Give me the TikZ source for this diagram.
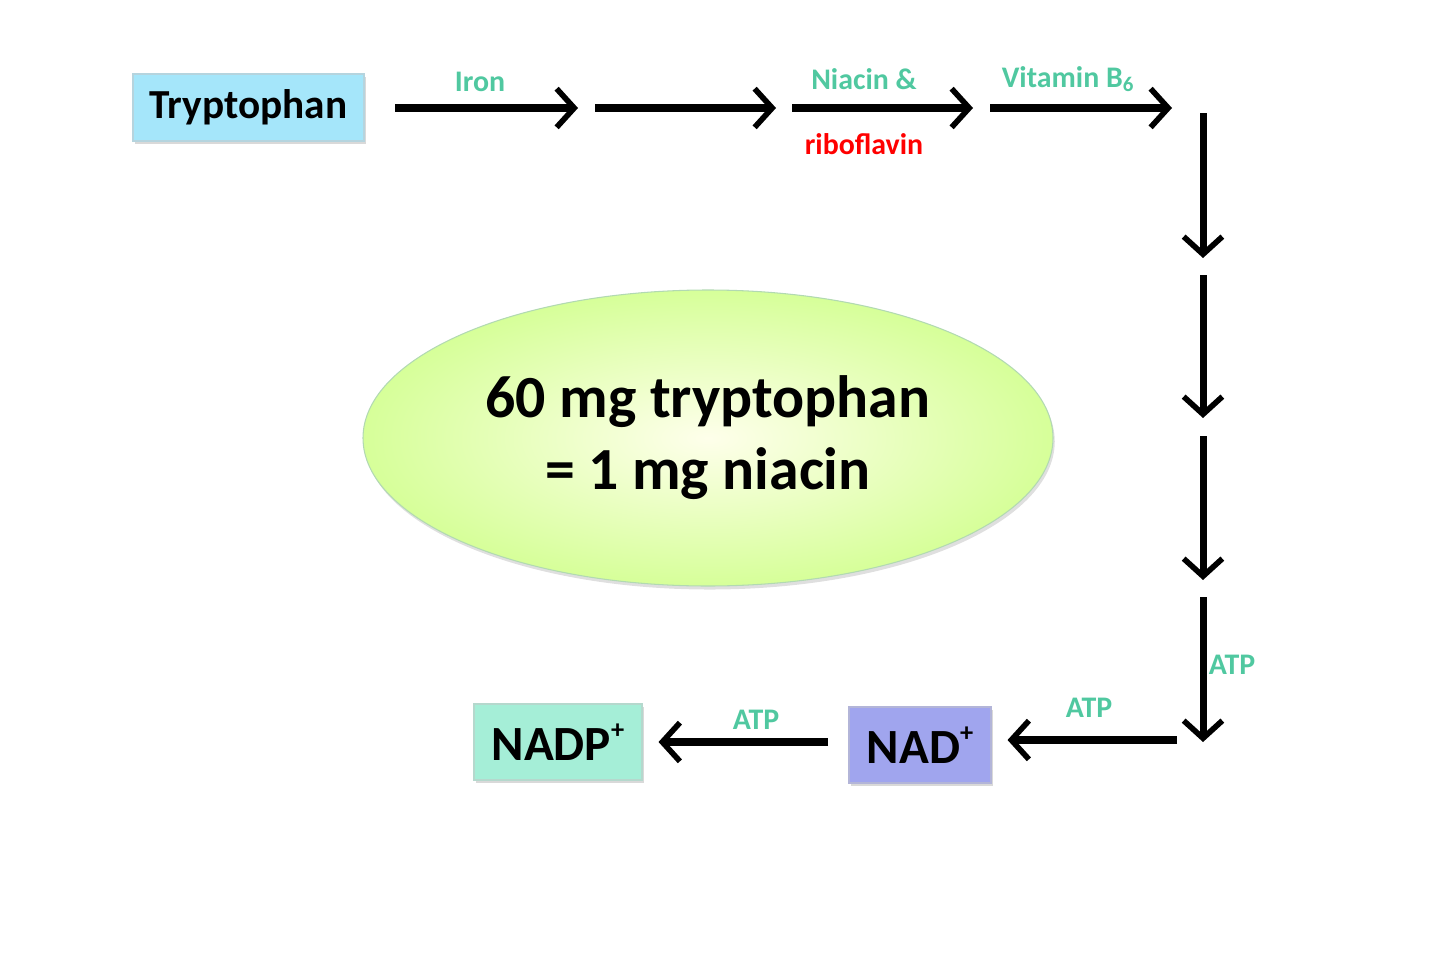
\documentclass[tikz,border=0pt]{standalone}
\usepackage{fontspec}
\setmainfont{Carlito}
\usetikzlibrary{arrows.meta,shadows,shapes.geometric}
\definecolor{teal2}{RGB}{80,200,160}
\definecolor{tryc}{RGB}{165,230,250}
\definecolor{nadpc}{RGB}{165,238,215}
\definecolor{nadc}{RGB}{160,165,238}
\tikzset{
 box/.style={draw=#1!80!black!60, line width=0.6pt, fill=#1, inner sep=0pt, font=\bfseries, drop shadow={opacity=0.3,shadow xshift=1pt,shadow yshift=-1.5pt}},
 arr/.style={line width=4pt, -{Straight Barb[length=10pt,width=22pt,line width=3.2pt]}},
 lab/.style={font=\bfseries\fontsize{17}{17}\selectfont, text=teal2, inner sep=0pt},
}
\newcommand{\supp}[1]{\raisebox{0.45em}{\fontsize{15}{15}\selectfont #1}}
\begin{document}
\begin{tikzpicture}[x=0.02cm,y=-0.02cm]
\useasboundingbox (0,0) rectangle (1440,970);
\node[box=tryc, minimum width=231*0.02cm, minimum height=67*0.02cm, font=\bfseries\fontsize{23.5}{23.5}\selectfont] (tryp) at (248.5,107.5) {Tryptophan};
\node[box=nadpc, minimum width=168*0.02cm, minimum height=76*0.02cm, font=\bfseries\fontsize{28}{28}\selectfont] (nadp) at (558,742) {NADP\supp{+}};
\node[box=nadc, minimum width=142*0.02cm, minimum height=76*0.02cm, font=\bfseries\fontsize{28}{28}\selectfont] (nad) at (920,745) {NAD\supp{+}};
\node[ellipse, draw=green!50!black!30, line width=0.6pt, inner color=green!5!yellow!8, outer color=green!40!yellow!40, minimum width=690*0.02cm, minimum height=296*0.02cm, drop shadow={opacity=0.25,shadow xshift=1pt,shadow yshift=-2pt}, align=center, font=\bfseries\fontsize{34}{41}\selectfont] (ell) at (708,438) {60 mg tryptophan\\= 1 mg niacin};
\coordinate (a0) at (395,108); \coordinate (a1) at (578,108);
\coordinate (b0) at (595,108); \coordinate (b1) at (776,108);
\coordinate (c0) at (792,108); \coordinate (c1) at (973,108);
\coordinate (d0) at (990,108); \coordinate (d1) at (1172,108);
\coordinate (v1) at (1203,113); \coordinate (v2) at (1203,258);
\coordinate (v3) at (1203,275); \coordinate (v4) at (1203,418);
\coordinate (v5) at (1203,436); \coordinate (v6) at (1203,580);
\coordinate (v7) at (1203,597); \coordinate (v8) at (1203,742);
\coordinate (h0) at (1177,740);
\coordinate (g0) at (828,742);
\draw[arr] (a0) -- (a1);
\draw[arr] (b0) -- (b1);
\draw[arr] (c0) -- (c1);
\draw[arr] (d0) -- (d1);
\draw[arr] (v1) -- (v2);
\draw[arr] (v3) -- (v4);
\draw[arr] (v5) -- (v6);
\draw[arr] (v7) -- (v8);
\draw[arr] (h0) -- ([xshift=16*0.02cm]h0 -| nad.east);
\draw[arr] (g0) -- ([xshift=16*0.02cm]g0 -| nadp.east);
\node[lab] (l1) at (480,82) {Iron};
\node[lab] (l2) at (864,79) {Niacin \&};
\node[lab] (l3) at (1068,79) {Vitamin B\textsubscript{6}};
\node[lab, text=red] (l4) at (864,144) {riboflavin};
\node[lab] (l5) at (1232,665) {ATP};
\node[lab] (l6) at (1089,708) {ATP};
\node[lab] (l7) at (756,720) {ATP};
\end{tikzpicture}
\end{document}
